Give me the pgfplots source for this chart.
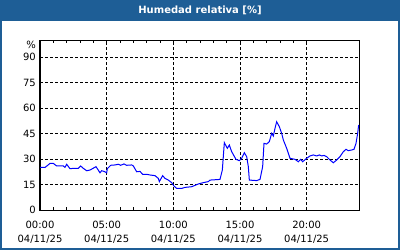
\documentclass[border=0pt]{standalone}
\usepackage{pgfplots}
\pgfplotsset{compat=1.18}
\usepackage{fontspec}
\setmainfont{DejaVu Sans}
\definecolor{titlec}{RGB}{30,94,150}
\definecolor{lineblue}{RGB}{0,0,255}
\newcommand\tl[1]{\fontsize{10}{14}\selectfont\begin{tabular}{@{}c@{}}#1\\04/11/25\end{tabular}}
\begin{document}
\begin{tikzpicture}[x=1pt,y=1pt]
\fill[white] (0,0) rectangle (400,250);
\fill[titlec] (0,229) rectangle (400,250);
\draw[titlec, line width=2pt] (1,1) rectangle (399,249);
\node[white, font=\fontsize{10}{12}\selectfont\bfseries] at (200,239.5) {Humedad relativa [\%]};
\begin{axis}[
  at={(40pt,40pt)}, anchor=south west,
  width=320pt, height=170pt, scale only axis,
  xmin=0, xmax=24, ymin=0, ymax=100,
  xtick={0,5,10,15,20},
  xticklabels={{\tl{00:00}},{\tl{05:00}},{\tl{10:00}},{\tl{15:00}},{\tl{20:00}}},
  minor x tick num=4,
  ytick={0,15,30,45,60,75,90},
  grid=major,
  major grid style={black, dash pattern=on 3pt off 2pt, line width=0.8pt},
  axis line style={black, line width=1pt},
  tick align=inside,
  major tick length=3pt, minor tick length=3pt,
  tick style={black, line width=0.8pt},
  ytick style={draw=none},
  font=\fontsize{10}{12}\selectfont,
  /pgf/number format/assume math mode=true,
  xticklabel style={inner sep=0pt, anchor=north, yshift=-8pt},
  yticklabel style={inner sep=0pt, anchor=east, xshift=-4pt},
  clip mode=individual,
]
\addplot[lineblue, line width=1pt] coordinates {
(0.00,25.1)(0.375,25.0)(0.75,27.4)(1.0,27.4)(1.25,25.9)(1.75,25.9)(1.875,25.1)(2.0,26.9)
(2.25,24.3)(2.5,24.5)(2.875,24.5)(3.05,25.9)(3.25,24.5)(3.5,23.1)(3.75,23.5)(4.2,25.5)
(4.5,21.9)(4.625,23.1)(4.8,22.7)(5.0,21.9)(5.05,24.3)(5.3,26.3)(5.625,26.5)(5.875,26.9)
(6.05,26.3)(6.3,27.1)(6.5,26.3)(6.875,26.5)(7.0,25.9)(7.25,22.5)(7.5,22.7)(7.7,21.0)
(8.0,21.0)(8.25,20.6)(8.625,20.2)(8.875,18.6)(8.95,16.7)(9.2,20.2)(9.375,18.6)(9.625,17.6)
(9.875,16.1)(10.05,14.1)(10.25,12.7)(10.625,12.7)(10.875,13.3)(11.375,13.7)(11.875,15.3)
(12.25,16.1)(12.625,16.7)(12.75,17.6)(13.5,18.0)(13.675,23.5)(13.825,39.6)(14.05,36.3)
(14.2,38.2)(14.375,34.3)(14.7,29.8)(14.95,29.0)(15.125,30.4)(15.325,33.7)(15.5,31.4)
(15.625,25.5)(15.7,17.6)(16.25,17.3)(16.5,18.0)(16.7,25.5)(16.8,39.2)(17.0,38.8)(17.2,40.2)
(17.375,45.1)(17.5,43.5)(17.625,48.0)(17.75,51.9)(17.95,49.0)(18.125,45.1)(18.25,41.2)
(18.5,36.3)(18.75,30.4)(19.125,29.8)(19.375,28.4)(19.55,29.8)(19.7,28.4)(20.0,30.4)
(20.25,31.8)(20.5,32.4)(20.75,31.8)(20.95,32.4)(21.125,31.8)(21.3,32.1)(21.5,31.4)
(21.75,29.4)(22.0,27.8)(22.25,29.4)(22.5,31.4)(22.75,34.3)(22.95,35.7)(23.125,34.9)
(23.375,35.3)(23.55,35.7)(23.7,39.2)(23.825,45.1)(23.9,50.0)
};
\node[anchor=east, inner sep=0pt, xshift=-4pt] at (axis cs:0,97) {\%};
\end{axis}
\end{tikzpicture}
\end{document}
